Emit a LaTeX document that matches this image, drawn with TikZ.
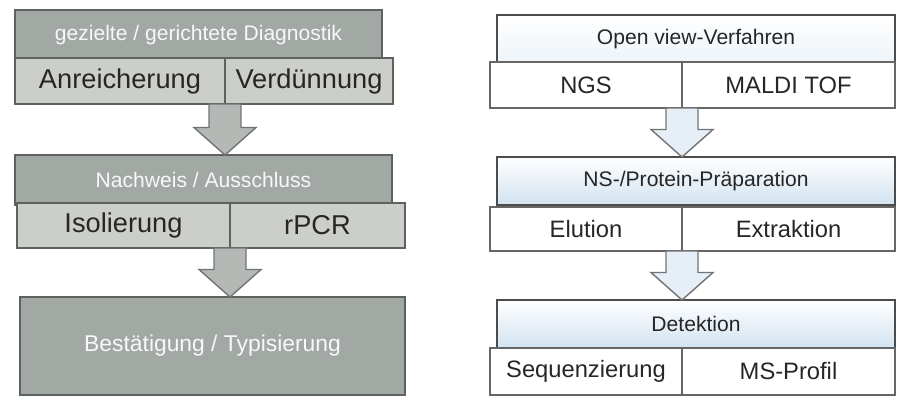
\documentclass[tikz,border=0pt]{standalone}
\usepackage{fontspec}
\setmainfont{Liberation Sans}
\usetikzlibrary{positioning,calc}
\definecolor{slate}{HTML}{A2A8A3}
\definecolor{pale}{HTML}{CCCFC9}
\definecolor{edge}{HTML}{5E625E}
\definecolor{ice}{HTML}{D2E3F0}
\definecolor{frost}{HTML}{E6EFF7}
\tikzset{%
  lhead/.style = {
    draw = edge,
    thick,
    fill = slate,
    text = white!92!slate,
    anchor = north west,
    inner sep = 0pt,
    outer sep = 0pt,
    minimum height = 1cm,
    font = \fontsize{12}{14}\selectfont,
  },
  lpart/.style = {
    draw = edge,
    thick,
    fill = pale,
    text = black!85,
    anchor = north west,
    inner sep = 0pt,
    outer sep = 0pt,
    minimum height = 0.92cm,
    font = \fontsize{15.5}{17}\selectfont,
  },
  rhead/.style = {
    draw = black!70,
    thick,
    top color = white,
    bottom color = #1,
    text = black!85,
    anchor = north west,
    inner sep = 0pt,
    outer sep = 0pt,
    minimum width = 7.96cm,
    minimum height = 0.96cm,
    font = \fontsize{12}{14}\selectfont,
  },
  rhead/.default = {ice},
  rpart/.style = {
    draw = black!60,
    thick,
    fill = white,
    text = black!85,
    anchor = north west,
    inner sep = 0pt,
    outer sep = 0pt,
    minimum height = 0.92cm,
    font = \fontsize{13.5}{15}\selectfont,
  },
  barrow/.style = {
    thick,
    fill = #1,
    draw = black!55,
    to path = {
      let \p1 = (\tikztostart), \p2 = (\tikztotarget) in
      (\x1-0.32cm,\y1) -- (\x1+0.32cm,\y1) -- (\x1+0.32cm,\y2+0.55cm)
      -- (\x1+0.62cm,\y2+0.55cm) -- (\x1,\y2) -- (\x1-0.62cm,\y2+0.55cm)
      -- (\x1-0.32cm,\y2+0.55cm) -- cycle
    },
  },
}

\begin{document}
\begin{tikzpicture}
\useasboundingbox (0,0) rectangle (18.02,-8.28);

% left column
\node(g1) [lhead, minimum width = 7.34cm] at (0.3,-0.2) {gezielte / gerichtete Diagnostik};
\node(a1) [lpart, minimum width = 4.2cm]  at (0.3,-1.16) {Anreicherung};
\node(v1) [lpart, minimum width = 3.36cm, right = 0pt of a1] {Verdünnung};
\node(n2) [lhead, minimum width = 7.54cm] at (0.3,-3.1) {Nachweis / Ausschluss};
\node(i2) [lpart, minimum width = 4.26cm, minimum height = 0.9cm] at (0.34,-4.06) {Isolierung};
\node(r2) [lpart, minimum width = 3.5cm, minimum height = 0.9cm, right = 0pt of i2] {rPCR};
\node(b3) [lhead, minimum width = 7.7cm, minimum height = 1.96cm,
           font = \fontsize{13}{15}\selectfont] at (0.4,-5.94) {Bestätigung / Typisierung};

% right column
\node(o1) [rhead=ice!40] at (9.94,-0.3) {Open view-Verfahren};
\node(s1) [rpart, minimum width = 3.84cm] at (9.8,-1.24) {NGS};
\node(m1) [rpart, minimum width = 4.26cm, right = 0pt of s1] {MALDI TOF};
\node(p2) [rhead] at (9.94,-3.14) {NS-/Protein-Präparation};
\node(e2) [rpart, minimum width = 3.84cm, minimum height = 0.88cm] at (9.8,-4.14) {Elution};
\node(x2) [rpart, minimum width = 4.26cm, minimum height = 0.88cm, right = 0pt of e2] {Extraktion};
\node(d3) [rhead] at (9.94,-6.0) {Detektion};
\node(q3) [rpart, minimum width = 3.84cm, minimum height = 0.94cm] at (9.8,-6.96) {Sequenzierung};
\node(f3) [rpart, minimum width = 4.26cm, minimum height = 0.94cm, right = 0pt of q3] {MS-Profil};

% arrows
\draw[barrow=slate!80!white] (a1.south east) to (a1.south east |- n2.north);
\draw[barrow=slate!80!white] (i2.south east) to (i2.south east |- b3.north);
\draw[barrow=frost]          (s1.south east) to (s1.south east |- p2.north);
\draw[barrow=frost]          (e2.south east) to (e2.south east |- d3.north);
\end{tikzpicture}
\end{document}
